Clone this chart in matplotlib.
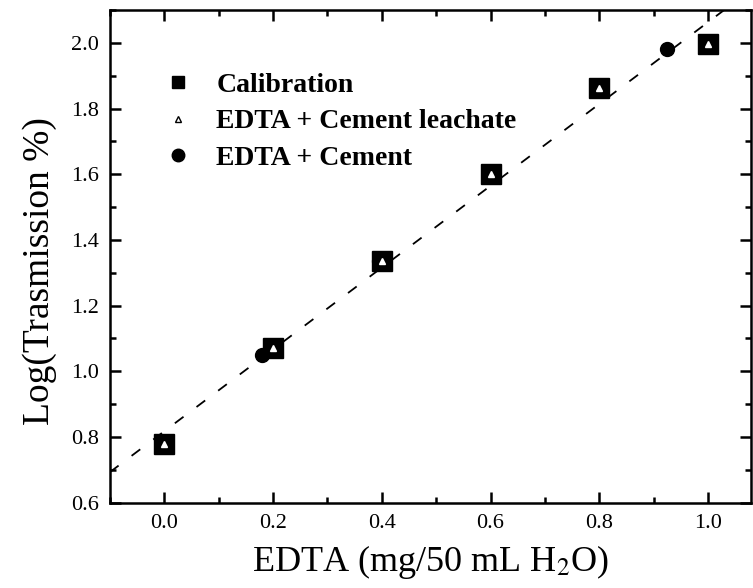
import matplotlib
matplotlib.use("Agg")
import matplotlib.pyplot as plt
from matplotlib.lines import Line2D
from matplotlib.ticker import MultipleLocator, FormatStrFormatter
import numpy as np

plt.rcParams['font.family'] = ['Liberation Serif', 'DejaVu Serif']
plt.rcParams['mathtext.fontset'] = 'stix'

# calibration points (EDTA mg / 50 mL H2O vs log transmission)
calib_x = [0.0, 0.2, 0.4, 0.6, 0.8, 1.0]
calib_y = [0.78, 1.07, 1.335, 1.60, 1.862, 1.995]

# EDTA + cement leachate
leach_x = [0.0, 0.2, 0.4, 0.6, 0.8, 1.0]
leach_y = [0.78, 1.07, 1.335, 1.60, 1.862, 1.995]

# EDTA + cement
cem_x = [0.18, 0.395, 0.925]
cem_y = [1.05, 1.335, 1.98]

fig = plt.figure(figsize=(7.53, 5.88), dpi=100)
ax = fig.add_axes([0.146, 0.145, 0.852, 0.838])

# linear fit of calibration
k, b = np.polyfit(calib_x, calib_y, 1)
xx = np.array([-0.1, 1.08])
ax.plot(xx, k * xx + b, color='black', lw=1.3, dashes=(6, 9), zorder=1)

ax.plot(calib_x, calib_y, 's', color='black', ms=15, zorder=2)
ax.plot(cem_x, cem_y, 'o', color='black', ms=10, zorder=3)
ax.plot(leach_x, leach_y, '^', mfc='white', mec='white', ms=4, zorder=4)

ax.set_xlim(-0.1, 1.08)
ax.set_ylim(0.6, 2.1)
ax.xaxis.set_major_locator(MultipleLocator(0.2))
ax.xaxis.set_minor_locator(MultipleLocator(0.1))
ax.yaxis.set_major_locator(MultipleLocator(0.2))
ax.yaxis.set_minor_locator(MultipleLocator(0.1))
ax.xaxis.set_major_formatter(FormatStrFormatter('%.1f'))
ax.yaxis.set_major_formatter(FormatStrFormatter('%.1f'))

ax.tick_params(which='both', direction='in', top=True, right=True, width=1.8)
ax.tick_params(which='major', length=8, labelsize=16, pad=8)
ax.tick_params(which='minor', length=4)
for s in ax.spines.values():
    s.set_linewidth(1.8)

ax.set_xlabel('EDTA (mg/50 mL H$_2$O)', fontsize=26, labelpad=7)
ax.set_ylabel('Log(Trasmission %)', fontsize=27)
ax.yaxis.set_label_coords(-0.082, 0.47)

handles = [
    Line2D([], [], ls='none', marker='s', color='black', ms=8),
    Line2D([], [], ls='none', marker='^', mfc='white', mec='black', ms=4),
    Line2D([], [], ls='none', marker='o', color='black', ms=9),
]
labels = ['Calibration', 'EDTA + Cement leachate', 'EDTA + Cement']
ax.legend(handles, labels, loc='upper left', bbox_to_anchor=(0.034, 0.924),
          frameon=False, prop={'weight': 'bold', 'size': 20},
          handletextpad=0.65, labelspacing=0.4, handlelength=1.5)

fig.savefig('out.png', dpi=100)
